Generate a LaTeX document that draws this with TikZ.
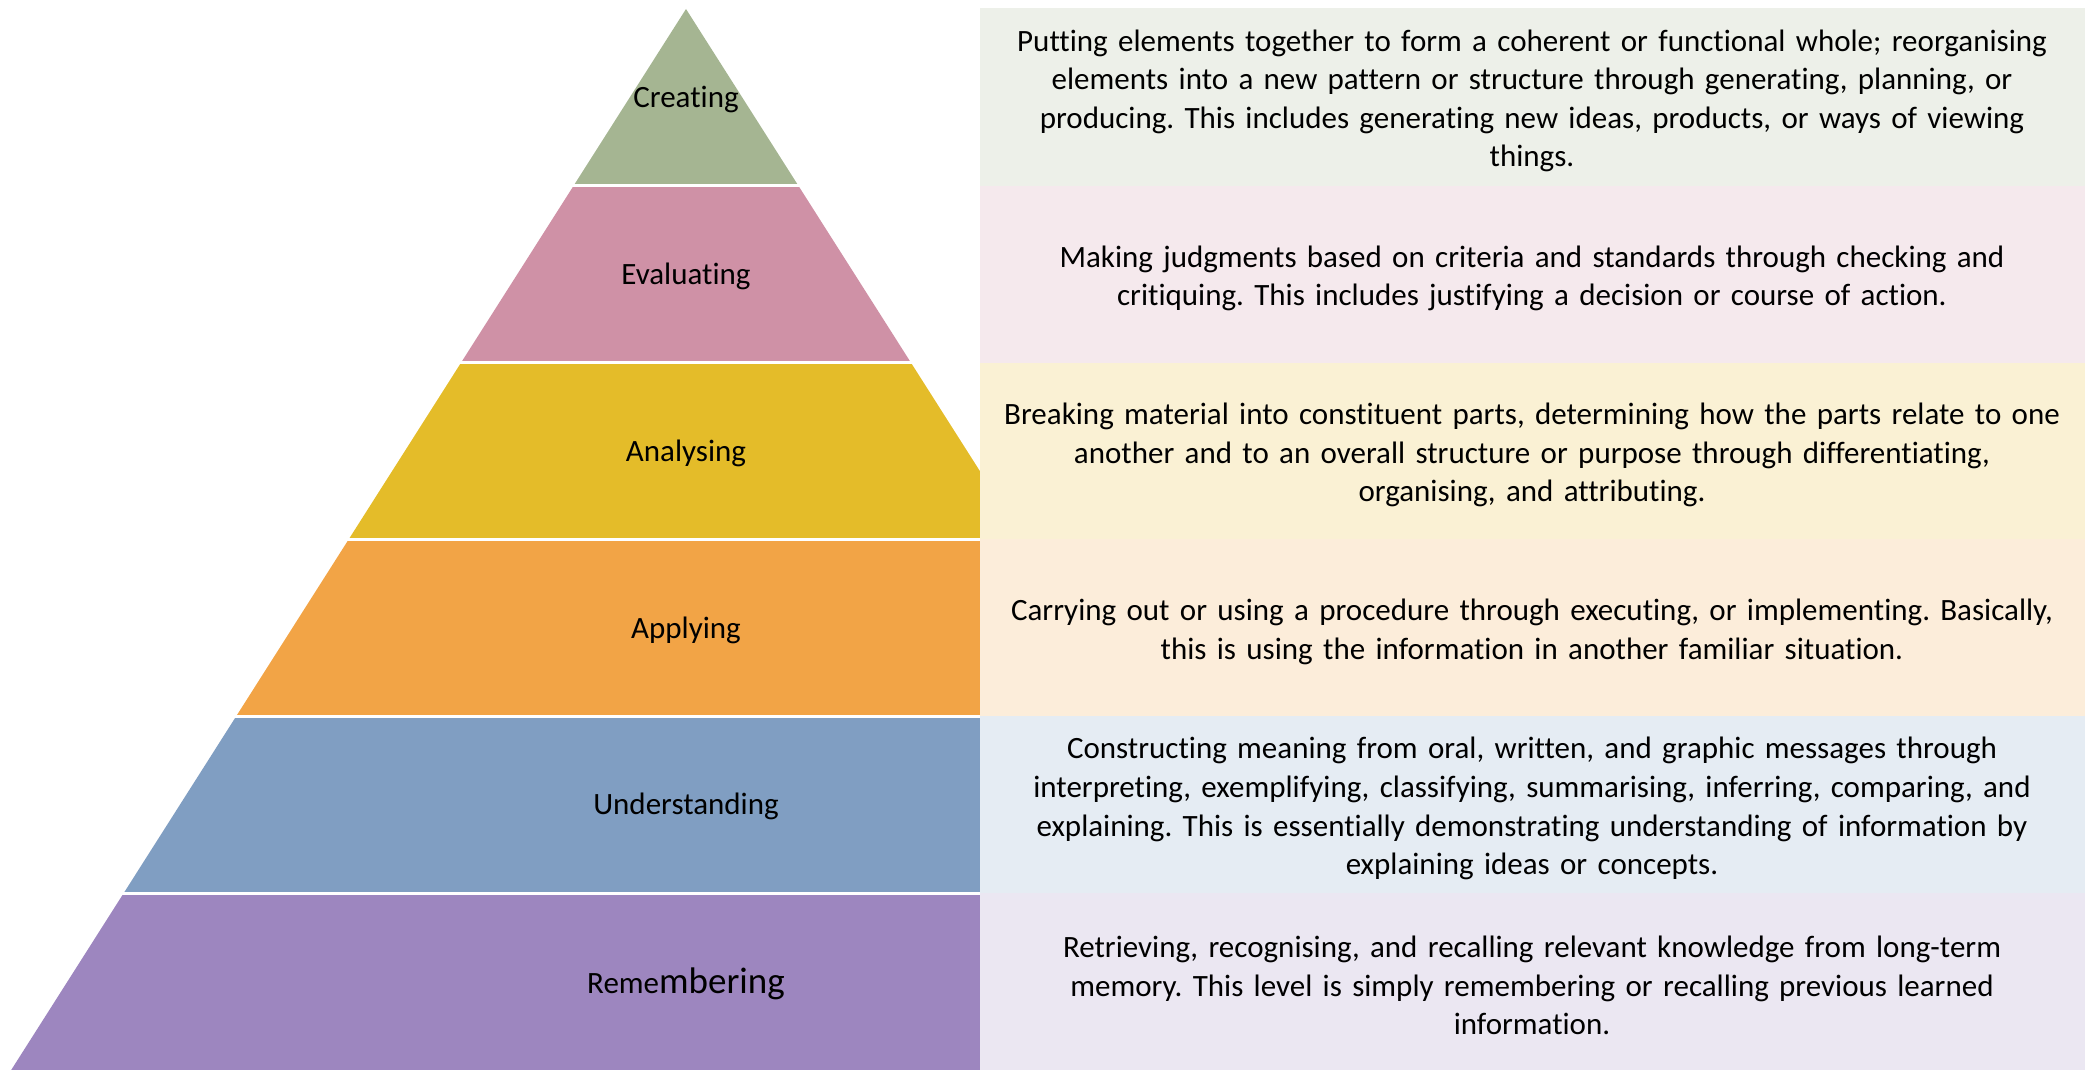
\documentclass[tikz,border=0pt]{standalone}
\usepackage{fontspec}
\setmainfont{Carlito}[Ligatures=NoCommon]
\usetikzlibrary{positioning}
\definecolor{creating}{HTML}{A5B592}
\definecolor{evaluating}{HTML}{CF91A6}
\definecolor{analysing}{HTML}{E4BC29}
\definecolor{applying}{HTML}{F2A446}
\definecolor{understanding}{HTML}{809EC2}
\definecolor{remembering}{HTML}{9D86BF}
\frenchspacing

\begin{document}
\begin{tikzpicture}[
			x=0.5pt, y=-0.5pt,
			levelname/.style={font=\fontsize{15.5}{19}\selectfont, inner sep=0pt},
			levelgap/.style={draw=white, line width=1.5pt},
			desctext/.style={font=\fontsize{15.5}{19.3}\selectfont, align=center, text width=545pt, inner sep=0pt}]
			
			\useasboundingbox (0,0) rectangle (2085,1070);
			
			% pyramid
			\foreach \i/\lvl/\txt in {0/creating/Creating, 1/evaluating/Evaluating, 2/analysing/Analysing, 3/applying/Applying, 4/understanding/Understanding, 5/remembering/{Reme{\fontsize{18.5}{22}\selectfont mbering}}} {
				\pgfmathsetmacro\yt{9+176.83*\i}
				\pgfmathsetmacro\yb{9+176.83*(\i+1)}
				\pgfmathsetmacro\wt{0.636*(\yt-9)}
				\pgfmathsetmacro\wb{0.636*(\yb-9)}
				\fill[\lvl] ({686-\wt},\yt) -- ({686+\wt},\yt) -- ({686+\wb},\yb) -- ({686-\wb},\yb) -- cycle;
				\ifnum\i>0 \draw[levelgap] (0,\yt) -- (980,\yt); \fi
				\node[levelname] (\lvl) at (686,{(\yt+\yb)/2+2}) {\txt};
			}
			
			% descriptions
			\foreach \i/\lvl/\txt in {
				0/creating/{Putting elements together to form a coherent or functional whole; reorganising\\ elements into a new pattern or structure through generating, planning, or\\ producing. This includes generating new ideas, products, or ways of viewing\\ things.},
				1/evaluating/{Making judgments based on criteria and standards through checking and\\ critiquing. This includes justifying a decision or course of action.},
				2/analysing/{Breaking material into constituent parts, determining how the parts relate to one\\ another and to an overall structure or purpose through differentiating,\\ organising, and attributing.},
				3/applying/{Carrying out or using a procedure through executing, or implementing. Basically,\\ this is using the information in another familiar situation.},
				4/understanding/{Constructing meaning from oral, written, and graphic messages through\\ interpreting, exemplifying, classifying, summarising, inferring, comparing, and\\ explaining. This is essentially demonstrating understanding of information by\\ explaining ideas or concepts.},
				5/remembering/{Retrieving, recognising, and recalling relevant knowledge from long-term\\ memory. This level is simply remembering or recalling previous learned\\ information.}} {
				\pgfmathsetmacro\yt{\i==0 ? 8 : 9+176.83*\i}
				\pgfmathsetmacro\yb{9+176.83*(\i+1)}
				\fill[\lvl!20] (980,\yt) rectangle (2085,\yb);
				\node[desctext] (\lvl-desc) at (1532,{(\yt+\yb)/2+4}) {\txt};
			}
		\end{tikzpicture}
\end{document}
